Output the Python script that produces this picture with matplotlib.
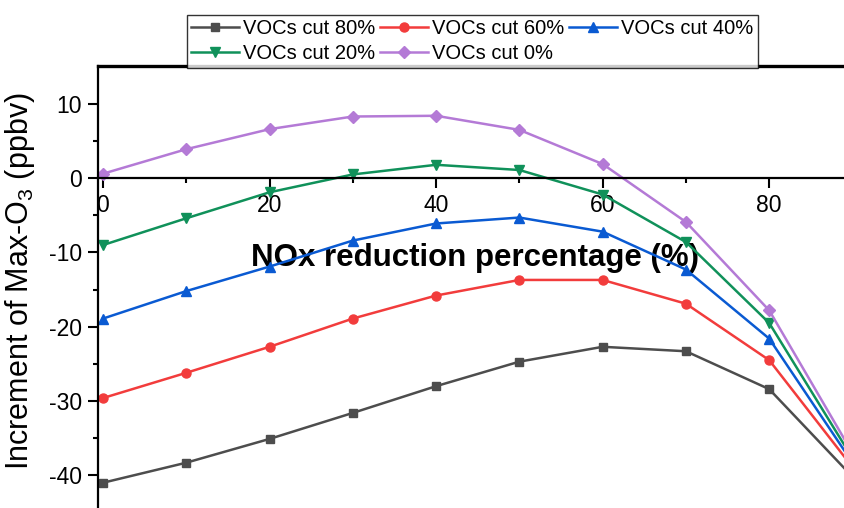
import numpy as np
import matplotlib
matplotlib.use('Agg')
import matplotlib.pyplot as plt

plt.rcParams['font.family'] = ['Liberation Sans', 'DejaVu Sans']
plt.rcParams['mathtext.fontset'] = 'custom'
plt.rcParams['mathtext.rm'] = 'Liberation Sans'
plt.rcParams['axes.unicode_minus'] = False

# reduccion de NOx (%)
nox = [0, 10, 20, 30, 40, 50, 60, 70, 80, 90]

voc80 = [-41.0, -38.3, -35.1, -31.6, -28.0, -24.7, -22.7, -23.3, -28.4, -40.2]
voc60 = [-29.6, -26.2, -22.7, -18.9, -15.8, -13.7, -13.7, -16.9, -24.5, -38.9]
voc40 = [-18.9, -15.2, -11.9, -8.4, -6.1, -5.3, -7.2, -12.3, -21.6, -38.3]
voc20 = [-9.0, -5.4, -1.9, 0.5, 1.8, 1.1, -2.2, -8.6, -19.5, -37.7]
voc0 = [0.6, 3.9, 6.6, 8.3, 8.4, 6.5, 1.9, -5.9, -17.8, -37.0]

series = [voc80, voc60, voc40, voc20, voc0]
etiquetas = ['VOCs cut 80%', 'VOCs cut 60%', 'VOCs cut 40%',
             'VOCs cut 20%', 'VOCs cut 0%']
colores = ['#4d4d4d', '#f23c3c', '#0a5ad2', '#10915a', '#b47ad6']
marcas = ['s', 'o', '^', 'v', 'D']
tam = [6, 6.5, 6.5, 6.5, 6]

fig = plt.figure(figsize=(8.45, 5.08), dpi=100)
ax = fig.add_axes([98 / 845, 0.0, 1 - 98 / 845, 1 - 66 / 508])

lineas = []
for y, lab, c, m, s in zip(series, etiquetas, colores, marcas, tam):
    l, = ax.plot(nox, y, color=c, marker=m, markersize=s, linewidth=1.8,
                 label=lab, clip_on=False)
    lineas.append(l)

ax.set_xlim(-0.6, 89.1)
ax.set_ylim(-44.4, 15.1)

ax.spines['bottom'].set_position(('data', 0))
ax.spines['right'].set_visible(False)
for sp in ['bottom', 'left']:
    ax.spines[sp].set_linewidth(1.6)
ax.spines['top'].set_linewidth(2.4)

ax.set_xticks([0, 20, 40, 60, 80])
ax.set_xticks([10, 30, 50, 70], minor=True)
ax.set_yticks([10, 0, -10, -20, -30, -40])
ax.set_yticks([5, -5, -15, -25, -35], minor=True)
ax.tick_params(which='major', length=7.5, width=1.5, labelsize=16.5, pad=4)
ax.tick_params(which='minor', length=3.8, width=1.5)

ax.set_xlabel('NOx reduction percentage (%)', fontsize=22.5, fontweight='bold',
              va='center')
ax.xaxis.set_label_coords(0.505, 0.566)
ax.set_ylabel('Increment of Max-O$_3$ (ppbv)', fontsize=22, va='center')
ax.yaxis.set_label_coords(-0.105, 0.514)

# orden por filas como en el original
orden = [0, 3, 1, 4, 2]
leg = ax.legend([lineas[i] for i in orden], [etiquetas[i] for i in orden],
                ncol=3, fontsize=14.5, loc='lower left',
                bbox_to_anchor=(187 / 845, 1 - 66 / 508 - 0.003),
                bbox_transform=fig.transFigure, frameon=True, fancybox=False,
                borderpad=0.2, labelspacing=0.3, handlelength=2.4,
                handletextpad=0.2, columnspacing=0.22, borderaxespad=0)
leg.get_frame().set_edgecolor('black')
leg.get_frame().set_linewidth(1.0)

plt.savefig('out.png', dpi=100)
